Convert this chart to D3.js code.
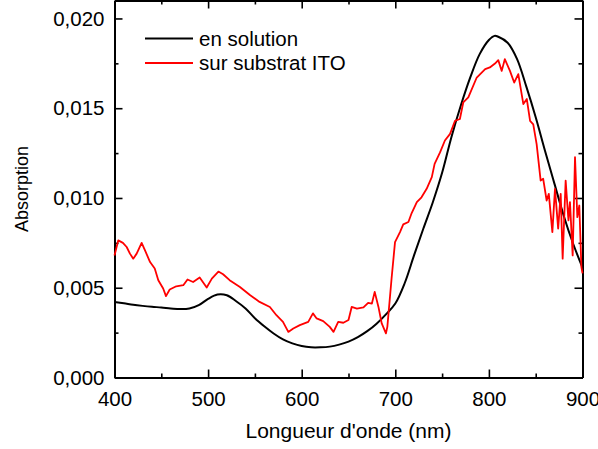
<!DOCTYPE html>
<html>
<head>
<meta charset="utf-8">
<script src="https://cdn.jsdelivr.net/npm/d3@7"></script>
<style>
  html, body { margin: 0; padding: 0; background: #fff; }
  svg { display: block; font-family: "Liberation Sans", Arial, sans-serif; }
</style>
</head>
<body>
<svg id="chart" width="598" height="449"></svg>
<script>
// ---- data ----
const seriesNames = ["en solution", "sur substrat ITO"];
const seriesColors = ["#000000", "#ff0000"];

const solutionX = [400,410,420,430,440,450,460,470,480,490,500,510,520,530,540,550,560,570,580,590,600,610,620,630,640,650,660,670,680,690,700,710,720,730,740,750,760,770,780,790,800,806,810,820,830,840,850,860,870,880,890,900];
const solutionY = [0.00420,0.00413,0.00405,0.00399,0.00394,0.00390,0.00385,0.00381,0.00384,0.00403,0.00438,0.00462,0.00458,0.00425,0.00385,0.00330,0.00285,0.00245,0.00212,0.00190,0.00175,0.00168,0.00168,0.00172,0.00183,0.00200,0.00225,0.00258,0.00300,0.00352,0.00412,0.00525,0.00680,0.00830,0.00975,0.01140,0.01340,0.01515,0.01670,0.01800,0.01880,0.01903,0.01898,0.01865,0.01775,0.01620,0.01450,0.01262,0.01080,0.00900,0.00745,0.00612];

const substratX = [400,404,409,413,416.5,420,423.7,429,432.6,438,443,446.8,452,455,459,466,473.5,478,484,491,498.5,504,511,516,523,534,545,555,566,573,580,585.7,591,598,607,612,616,623,630,634,639,644.5,650,653.4,659,666,671,675,678,682,685.5,690,691.5,696,699.7,705,708.5,714,717.5,723,728,733.5,739,742,747.8,753,758.5,763.8,769,772.6,778,787,796,801,806.5,810,813.7,817,822.5,827,831.4,836.8,840.5,844,847.4,851,855.3,858,861.7,864,867.8,870.6,874,876.7,878.8,882,885,886.6,889.5,892,894.5,896.6,898.8,900];
const substratY = [0.0068,0.00764,0.0075,0.00727,0.0069,0.00662,0.0069,0.0075,0.00708,0.00643,0.00607,0.00542,0.00496,0.00453,0.0049,0.00508,0.00514,0.00546,0.00532,0.00557,0.00501,0.00551,0.0059,0.00575,0.00542,0.00504,0.00458,0.00421,0.00393,0.00347,0.0031,0.00254,0.00273,0.00292,0.0031,0.00357,0.00329,0.00314,0.00282,0.00254,0.0031,0.00305,0.0032,0.00393,0.00384,0.0039,0.00416,0.00412,0.00477,0.00393,0.00301,0.00246,0.00282,0.0055,0.00754,0.0081,0.00853,0.00866,0.00916,0.00977,0.01004,0.01051,0.01116,0.0119,0.01254,0.0132,0.01357,0.0143,0.0144,0.01532,0.0156,0.01671,0.01718,0.01727,0.01749,0.01768,0.01708,0.01773,0.01708,0.01643,0.0169,0.01523,0.01551,0.0143,0.0141,0.013,0.01097,0.01107,0.00986,0.01023,0.0081,0.01051,0.00829,0.01023,0.00662,0.01097,0.00875,0.00977,0.0068,0.01227,0.00893,0.00958,0.00616,0.0058];

const xMajorTicks = [400,500,600,700,800,900];
const xMinorTicks = [450,550,650,750,850];
const yMajorTicks = [0,0.005,0.010,0.015,0.020];
const yMinorTicks = [0.0025,0.0075,0.0125,0.0175];

const xTitle = "Longueur d'onde (nm)";
const yTitle = "Absorption";

// ---- layout ----
const svg = d3.select("#chart");
const L = 114.5, R = 582.5, T = 0.5, B = 377.5;
const x = d3.scaleLinear().domain([400, 900]).range([L, R]);
const y = d3.scaleLinear().domain([0, 0.021]).range([B, T]);
const fmtY = v => d3.format(".3f")(v).replace(".", ",");

function styleAxis(g) {
  g.selectAll("path.domain").attr("stroke", "#000").attr("stroke-width", 2);
  g.selectAll(".tick line").attr("stroke", "#000").attr("stroke-width", 1.6);
  g.selectAll(".tick text").attr("font-size", "20.5px").attr("fill", "#000")
    .attr("font-family", "'Liberation Sans', Arial, sans-serif");
}

// minor ticks first
svg.append("g").attr("transform", `translate(0,${B})`)
  .call(d3.axisBottom(x).tickValues(xMinorTicks).tickSize(-4).tickSizeOuter(0).tickFormat(""))
  .call(styleAxis);
svg.append("g").attr("transform", `translate(0,${T})`)
  .call(d3.axisTop(x).tickValues(xMinorTicks).tickSize(-4).tickSizeOuter(0).tickFormat(""))
  .call(styleAxis);
svg.append("g").attr("transform", `translate(${L},0)`)
  .call(d3.axisLeft(y).tickValues(yMinorTicks).tickSize(-4).tickSizeOuter(0).tickFormat(""))
  .call(styleAxis);
svg.append("g").attr("transform", `translate(${R},0)`)
  .call(d3.axisRight(y).tickValues(yMinorTicks).tickSize(-4).tickSizeOuter(0).tickFormat(""))
  .call(styleAxis);

// major ticks
svg.append("g").attr("transform", `translate(0,${B})`)
  .call(d3.axisBottom(x).tickValues(xMajorTicks).tickSize(-8).tickSizeOuter(0).tickPadding(14).tickFormat(d3.format("d")))
  .call(styleAxis);
svg.append("g").attr("transform", `translate(0,${T})`)
  .call(d3.axisTop(x).tickValues(xMajorTicks).tickSize(-8).tickSizeOuter(0).tickFormat(""))
  .call(styleAxis);
svg.append("g").attr("transform", `translate(${L},0)`)
  .call(d3.axisLeft(y).tickValues(yMajorTicks).tickSize(-8).tickSizeOuter(0).tickPadding(10).tickFormat(fmtY))
  .call(styleAxis);
svg.append("g").attr("transform", `translate(${R},0)`)
  .call(d3.axisRight(y).tickValues(yMajorTicks).tickSize(-8).tickSizeOuter(0).tickFormat(""))
  .call(styleAxis);

// ---- series ----
const solution = solutionX.map((v, i) => [v, solutionY[i]]);
const substrat = substratX.map((v, i) => [v, substratY[i]]);

svg.append("path").datum(solution)
  .attr("fill", "none").attr("stroke", seriesColors[0]).attr("stroke-width", 2)
  .attr("d", d3.line().x(d => x(d[0])).y(d => y(d[1])).curve(d3.curveCatmullRom));

svg.append("path").datum(substrat)
  .attr("fill", "none").attr("stroke", seriesColors[1]).attr("stroke-width", 1.8)
  .attr("stroke-linejoin", "round")
  .attr("d", d3.line().x(d => x(d[0])).y(d => y(d[1])));

// ---- legend ----
const leg = svg.append("g");
seriesNames.forEach((name, i) => {
  const ly = 38.5 + i * 24.5;
  leg.append("line").attr("x1", 145).attr("x2", 193).attr("y1", ly).attr("y2", ly)
    .attr("stroke", seriesColors[i]).attr("stroke-width", 2);
  leg.append("text").attr("x", 199).attr("y", ly + 7)
    .attr("font-size", "20.5px").attr("fill", "#000").text(name);
});

// ---- titles ----
svg.append("text").attr("x", (L + R) / 2).attr("y", 438).attr("text-anchor", "middle")
  .attr("font-size", "21px").attr("fill", "#000").text(xTitle);
svg.append("text").attr("transform", `translate(28,${(T + B) / 2}) rotate(-90)`)
  .attr("text-anchor", "middle").attr("font-size", "18px").attr("fill", "#000").text(yTitle);
</script>
</body>
</html>
